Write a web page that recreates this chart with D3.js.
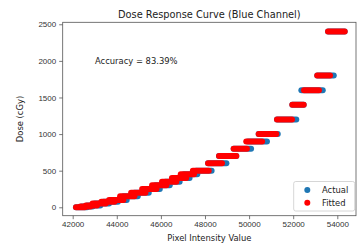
<!DOCTYPE html>
<html>
<head>
<meta charset="utf-8">
<script src="https://cdn.jsdelivr.net/npm/d3@7"></script>
<style>
  body { margin: 0; background: #fff; }
  svg { font-family: "DejaVu Sans", sans-serif; }
  .tick text { fill: #333; font-size: 8px; }
  .tick line, .domain { stroke: #555; stroke-width: 0.8; }
</style>
</head>
<body>
<svg width="357" height="247"></svg>
<script>
'use strict'

// dose levels (cGy) and the pixel-value extent of each point cluster
const doseLevels   = [0, 10, 25, 50, 75, 100, 150, 200, 250, 300, 350, 400, 450, 500, 600, 700, 800, 900, 1000, 1200, 1400, 1600, 1800, 2400]
const actualStart  = [42150, 42400, 42650, 43000, 43400, 43800, 44300, 44800, 45300, 45750, 46200, 46650, 47050, 47600, 48140, 48635, 49300, 49950, 50435, 51265, 51960, 52370, 53090, 53580]
const actualEnd    = [42650, 42900, 43250, 43650, 44050, 44450, 44950, 45450, 45950, 46400, 46850, 47300, 47650, 48300, 48970, 49420, 50090, 50810, 51300, 52140, 52475, 53340, 53840, 54335]
const fittedStart  = [42150, 42350, 42600, 42900, 43300, 43650, 44150, 44650, 45150, 45600, 46050, 46500, 46900, 47450, 48140, 48635, 49300, 49870, 50435, 51265, 51960, 52490, 53090, 53580]
const fittedEnd    = [42550, 42800, 43100, 43500, 43900, 44300, 44800, 45300, 45800, 46250, 46700, 47150, 47500, 48170, 48770, 49420, 49900, 50590, 51230, 51945, 52475, 53170, 53670, 54335]

const xTicks = [42000, 44000, 46000, 48000, 50000, 52000, 54000]
const yTicks = [0, 500, 1000, 1500, 2000, 2500]
const accuracy = '83.39%'

const svg = d3.select('svg')
const mLeft = 62.7, mRight = 356, mTop = 22.3, mBottom = 215.7

const x = d3.scaleLinear().domain([41547, 54848]).range([mLeft, mRight])
const y = d3.scaleLinear().domain([-115, 2527]).range([mBottom, mTop])

const actual = doseLevels.map((d, i) => ({ dose: d, x0: actualStart[i], x1: actualEnd[i] }))
const fitted = doseLevels.map((d, i) => ({ dose: d, x0: fittedStart[i], x1: fittedEnd[i] }))

// dense scatter clusters drawn as round-capped runs of markers
function drawRuns(data, color) {
    svg.append('g')
        .selectAll('line')
        .data(data)
        .enter()
        .append('line')
        .attr('x1', (d) => x(d.x0))
        .attr('x2', (d) => x(d.x1))
        .attr('y1', (d) => y(d.dose))
        .attr('y2', (d) => y(d.dose))
        .attr('stroke', color)
        .attr('stroke-width', 6)
        .attr('stroke-linecap', 'round')
}
drawRuns(actual, '#1f77b4')
drawRuns(fitted, '#ff0000')

// frame
svg.append('rect')
    .attr('x', mLeft).attr('y', mTop)
    .attr('width', mRight - mLeft).attr('height', mBottom - mTop)
    .attr('fill', 'none').attr('stroke', '#555').attr('stroke-width', 0.8)

svg.append('g')
    .attr('transform', `translate(0, ${mBottom})`)
    .call(d3.axisBottom(x).tickValues(xTicks).tickSize(3.5).tickPadding(2.5).tickFormat(d3.format('d')))
    .call((g) => g.select('.domain').remove())

svg.append('g')
    .attr('transform', `translate(${mLeft}, 0)`)
    .call(d3.axisLeft(y).tickValues(yTicks).tickSize(3.5).tickPadding(3).tickFormat(d3.format('d')))
    .call((g) => g.select('.domain').remove())

svg.append('text')
    .attr('x', (mLeft + mRight) / 2)
    .attr('y', 18)
    .attr('text-anchor', 'middle')
    .attr('font-size', 9.8)
    .attr('fill', '#222')
    .text('Dose Response Curve (Blue Channel)')

svg.append('text')
    .attr('x', 95)
    .attr('y', 64)
    .attr('font-size', 8.4)
    .attr('fill', '#222')
    .text(`Accuracy = ${accuracy}`)

svg.append('text')
    .attr('x', (mLeft + mRight) / 2)
    .attr('y', 241)
    .attr('text-anchor', 'middle')
    .attr('font-size', 8.4)
    .attr('fill', '#222')
    .text('Pixel Intensity Value')

svg.append('text')
    .attr('transform', `translate(23, ${(mTop + mBottom) / 2}) rotate(-90)`)
    .attr('text-anchor', 'middle')
    .attr('font-size', 8.4)
    .attr('fill', '#222')
    .text('Dose (cGy)')

// legend
const legend = svg.append('g')
legend.append('rect')
    .attr('x', 293.7).attr('y', 181.5)
    .attr('width', 61).attr('height', 29.5)
    .attr('rx', 2)
    .attr('fill', '#fff').attr('fill-opacity', 0.8)
    .attr('stroke', '#ccc').attr('stroke-width', 0.8)

const legendItems = [['Actual', '#1f77b4'], ['Fitted', '#ff0000']]
legendItems.forEach(([name, color], i) => {
    const ly = 190 + i * 12.7
    legend.append('circle')
        .attr('cx', 307.3).attr('cy', ly).attr('r', 3)
        .attr('fill', color)
    legend.append('text')
        .attr('x', 322).attr('y', ly + 3)
        .attr('font-size', 8.4)
        .attr('fill', '#222')
        .text(name)
})
</script>
</body>
</html>
